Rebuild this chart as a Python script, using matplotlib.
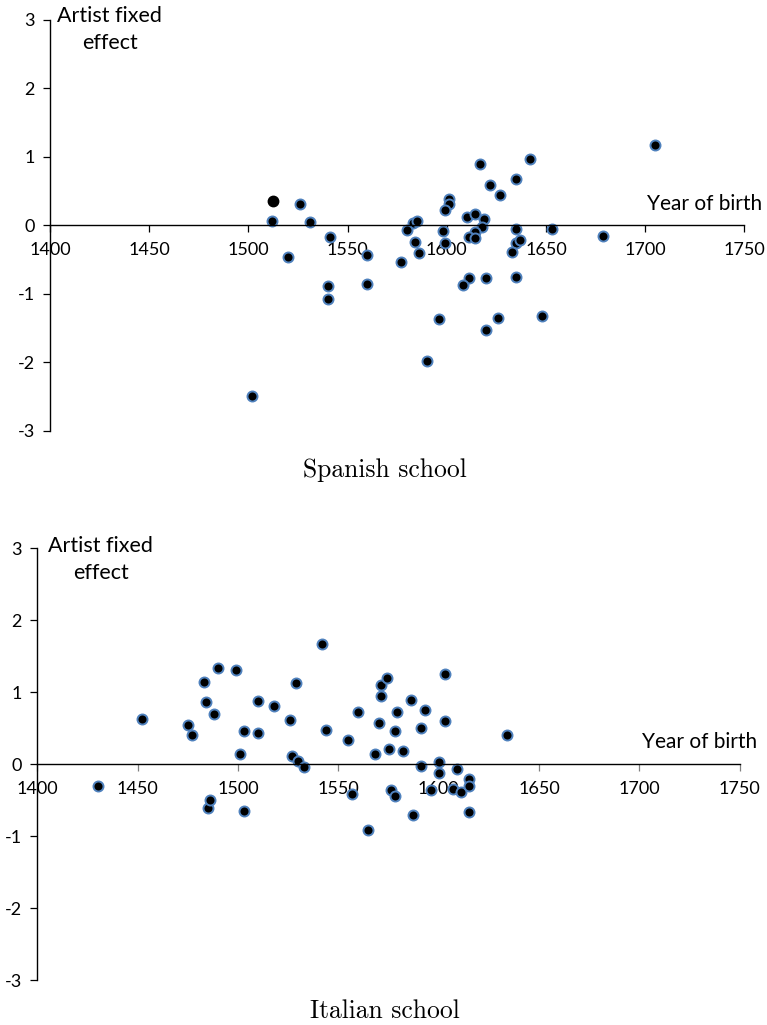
import matplotlib
matplotlib.use("Agg")
import matplotlib.pyplot as plt
import numpy as np

# Spanish school: year of birth and artist fixed effect
spain_year = [1512, 1526, 1531, 1541, 1520, 1540, 1540, 1560, 1560, 1502,
              1705, 1642, 1617, 1635, 1622, 1627, 1601, 1601, 1599, 1610,
              1614, 1619, 1618, 1583, 1585, 1580, 1598, 1635, 1653, 1584,
              1599, 1586, 1577, 1614, 1611, 1614, 1635, 1637, 1633, 1679,
              1611, 1608, 1620, 1635, 1596, 1626, 1620, 1648, 1590]
spain_effect = [0.06, 0.31, 0.05, -0.17, -0.46, -0.89, -1.08, -0.44, -0.85, -2.50,
                1.18, 0.97, 0.89, 0.68, 0.59, 0.44, 0.39, 0.31, 0.23, 0.12,
                0.17, 0.09, -0.02, 0.04, 0.07, -0.07, -0.08, -0.05, -0.06, -0.25,
                -0.26, -0.40, -0.54, -0.09, -0.17, -0.18, -0.26, -0.22, -0.39, -0.15,
                -0.77, -0.87, -0.77, -0.76, -1.37, -1.35, -1.53, -1.32, -1.98]
# one point drawn without the blue outline
spain_extra_year = [1512.5]
spain_extra_effect = [0.35]

# Italian school
italy_year = [1430, 1452, 1475, 1477, 1483, 1484, 1490, 1488, 1499, 1501,
              1503, 1510, 1510, 1518, 1526, 1529, 1527, 1530, 1533, 1542,
              1544, 1485, 1486, 1503, 1555, 1560, 1557, 1565, 1568, 1570,
              1571, 1571, 1574, 1575, 1576, 1578, 1579, 1578, 1582, 1586,
              1587, 1591, 1591, 1593, 1596, 1600, 1600, 1603, 1603, 1607,
              1609, 1611, 1615, 1615, 1615, 1634]
italy_effect = [-0.30, 0.63, 0.55, 0.41, 1.15, 0.86, 1.34, 0.70, 1.31, 0.15,
                0.46, 0.88, 0.44, 0.81, 0.61, 1.13, 0.12, 0.05, -0.04, 1.67,
                0.48, -0.61, -0.50, -0.65, 0.34, 0.73, -0.41, -0.91, 0.14, 0.57,
                0.95, 1.10, 1.20, 0.21, -0.35, 0.46, 0.72, -0.44, 0.19, 0.90,
                -0.70, 0.50, -0.03, 0.76, -0.35, 0.03, -0.12, 1.25, 0.60, -0.34,
                -0.06, -0.39, -0.20, -0.30, -0.66, 0.41]

x_ticks = [1400, 1450, 1500, 1550, 1600, 1650, 1700, 1750]
y_ticks = [-3, -2, -1, 0, 1, 2, 3]

plt.rcParams["font.family"] = ["Lato", "DejaVu Sans"]
plt.rcParams["axes.unicode_minus"] = False

W, H = 767, 1025
fig = plt.figure(figsize=(W / 100, H / 100), dpi=100)

ax1 = fig.add_axes([50 / W, 1 - 430.7 / H, 694.3 / W, 410.7 / H])
ax2 = fig.add_axes([37.3 / W, 1 - 980.3 / H, 702.5 / W, 432 / H])


def style_axis(ax, xtick_color):
    ax.set_xlim(1400, 1750)
    ax.set_ylim(-3, 3)
    ax.spines["top"].set_visible(False)
    ax.spines["right"].set_visible(False)
    ax.spines["bottom"].set_position(("data", 0))
    ax.spines["bottom"].set_linewidth(1.0)
    ax.spines["left"].set_linewidth(1.0)
    ax.set_xticks(x_ticks)
    ax.set_yticks(y_ticks)
    ax.tick_params(axis="x", direction="out", length=5, width=0.9,
                   color=xtick_color, labelsize=13, pad=7)
    ax.tick_params(axis="y", direction="out", length=5, width=0.9,
                   labelsize=13, pad=6)


style_axis(ax1, "black")
style_axis(ax2, "#808080")

marker_kw = dict(linestyle="none", marker="o", markersize=7.2,
                 markerfacecolor="black", markeredgecolor="#4F81BD",
                 markeredgewidth=1.4, clip_on=False)

ax1.plot(spain_year, spain_effect, **marker_kw)
ax1.plot(spain_extra_year, spain_extra_effect, linestyle="none", marker="o",
         markersize=7.5, color="black")
ax2.plot(italy_year, italy_effect, **marker_kw)

for ax, lx, ly in [(ax1, 1430, 2.86), (ax2, 1431.5, 2.84)]:
    ax.text(lx, ly, "Artist fixed\neffect", ha="center", va="center",
            fontsize=15.5, linespacing=1.45)
    ax.text(1730, 0.31, "Year of birth", ha="center", va="center",
            fontsize=15, clip_on=False)

fig.text(385 / W, 1 - 476.7 / H, "Spanish school", fontfamily="cmr10",
         fontsize=18.4, ha="center", va="baseline")
fig.text(385 / W, 1 - 1018 / H, "Italian school", fontfamily="cmr10",
         fontsize=18.4, ha="center", va="baseline")

fig.savefig("out.png", dpi=100)
